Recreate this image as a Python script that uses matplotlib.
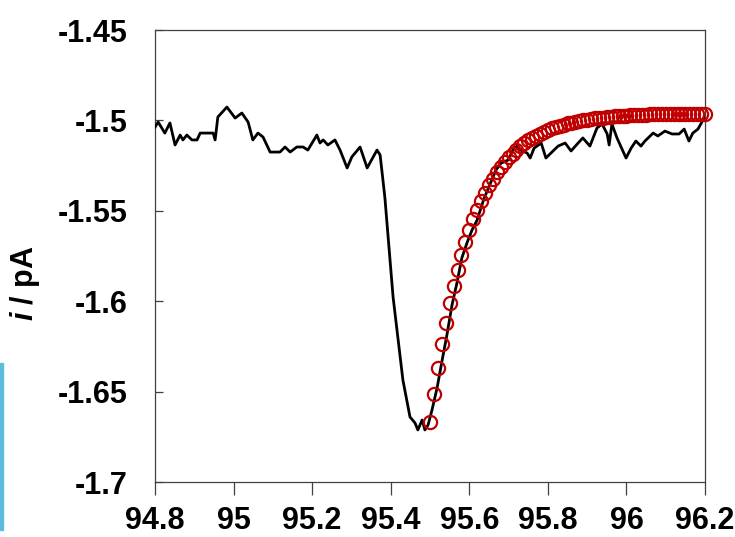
import matplotlib
matplotlib.use("Agg")
import matplotlib.pyplot as plt
from matplotlib.patches import Rectangle

# ----------------------------------------------------------------------------
# Data (time vs. current)
# ----------------------------------------------------------------------------
TRACE_X = [94.800, 94.808, 94.825, 94.838, 94.851, 94.864, 94.871, 94.881,
           94.894, 94.907, 94.915, 94.948, 94.953, 94.960, 94.983, 95.004,
           95.021, 95.037, 95.049, 95.062, 95.075, 95.093, 95.118, 95.131,
           95.144, 95.161, 95.177, 95.189, 95.212, 95.220, 95.228, 95.240,
           95.258, 95.271, 95.289, 95.301, 95.322, 95.340, 95.365, 95.373,
           95.385, 95.406, 95.431, 95.449, 95.462, 95.469, 95.480, 95.487,
           95.495, 95.505, 95.518, 95.531, 95.543, 95.556, 95.569, 95.581,
           95.594, 95.607, 95.620, 95.637, 95.655, 95.668, 95.681, 95.699,
           95.711, 95.721, 95.734, 95.747, 95.755, 95.765, 95.783, 95.795,
           95.808, 95.826, 95.844, 95.859, 95.877, 95.889, 95.907, 95.925,
           95.938, 95.951, 95.956, 95.963, 95.976, 95.999, 96.012, 96.024,
           96.037, 96.047, 96.068, 96.080, 96.098, 96.116, 96.134, 96.147,
           96.159, 96.169, 96.182, 96.195, 96.200]
TRACE_I = [-1.5037, -1.5009, -1.5070, -1.5014, -1.5136, -1.5081, -1.5108, -1.5081,
           -1.5108, -1.5108, -1.5070, -1.5070, -1.5108, -1.4981, -1.4926, -1.4987,
           -1.4959, -1.5009, -1.5108, -1.5070, -1.5092, -1.5175, -1.5175, -1.5147,
           -1.5175, -1.5147, -1.5147, -1.5164, -1.5081, -1.5125, -1.5108, -1.5136,
           -1.5108, -1.5164, -1.5263, -1.5202, -1.5147, -1.5263, -1.5164, -1.5191,
           -1.5424, -1.5977, -1.6436, -1.6640, -1.6674, -1.6712, -1.6657, -1.6712,
           -1.6685, -1.6602, -1.6480, -1.6325, -1.6187, -1.6021, -1.5894, -1.5761,
           -1.5678, -1.5606, -1.5551, -1.5435, -1.5341, -1.5274, -1.5236, -1.5219,
           -1.5164, -1.5142, -1.5169, -1.5180, -1.5208, -1.5153, -1.5125, -1.5208,
           -1.5180, -1.5142, -1.5125, -1.5169, -1.5125, -1.5097, -1.5142, -1.5042,
           -1.5020, -1.5075, -1.5136, -1.5020, -1.5097, -1.5208, -1.5153, -1.5114,
           -1.5142, -1.5114, -1.5070, -1.5086, -1.5059, -1.5075, -1.5075, -1.5048,
           -1.5114, -1.5070, -1.5048, -1.4998, -1.4976]

# fitted decay, one circle every 0.01 from 95.50 to 96.20
FIT_X = [95.50, 95.51, 95.52, 95.53, 95.54, 95.55, 95.56, 95.57, 95.58, 95.59,
         95.60, 95.61, 95.62, 95.63, 95.64, 95.65, 95.66, 95.67, 95.68, 95.69,
         95.70, 95.71, 95.72, 95.73, 95.74, 95.75, 95.76, 95.77, 95.78, 95.79,
         95.80, 95.81, 95.82, 95.83, 95.84, 95.85, 95.86, 95.87, 95.88, 95.89,
         95.90, 95.91, 95.92, 95.93, 95.94, 95.95, 95.96, 95.97, 95.98, 95.99,
         96.00, 96.01, 96.02, 96.03, 96.04, 96.05, 96.06, 96.07, 96.08, 96.09,
         96.10, 96.11, 96.12, 96.13, 96.14, 96.15, 96.16, 96.17, 96.18, 96.19,
         96.20]
FIT_I = [-1.6670, -1.6512, -1.6368, -1.6238, -1.6120, -1.6012, -1.5915, -1.5827,
         -1.5746, -1.5674, -1.5608, -1.5548, -1.5493, -1.5444, -1.5399, -1.5359,
         -1.5322, -1.5288, -1.5258, -1.5230, -1.5205, -1.5183, -1.5162, -1.5143,
         -1.5126, -1.5111, -1.5097, -1.5084, -1.5073, -1.5062, -1.5053, -1.5044,
         -1.5036, -1.5029, -1.5023, -1.5017, -1.5012, -1.5007, -1.5003, -1.4999,
         -1.4995, -1.4992, -1.4989, -1.4986, -1.4984, -1.4982, -1.4980, -1.4978,
         -1.4976, -1.4975, -1.4973, -1.4972, -1.4971, -1.4970, -1.4969, -1.4968,
         -1.4967, -1.4967, -1.4966, -1.4965, -1.4965, -1.4965, -1.4964, -1.4964,
         -1.4963, -1.4963, -1.4963, -1.4963, -1.4962, -1.4962, -1.4962]

X_TICKS = [94.8, 95.0, 95.2, 95.4, 95.6, 95.8, 96.0, 96.2]
X_LABELS = ["94.8", "95", "95.2", "95.4", "95.6", "95.8", "96", "96.2"]
Y_TICKS = [-1.7, -1.65, -1.6, -1.55, -1.5, -1.45]
Y_LABELS = ["-1.7", "-1.65", "-1.6", "-1.55", "-1.5", "-1.45"]

plt.rcParams["font.family"] = ["Liberation Sans", "DejaVu Sans"]
plt.rcParams["font.weight"] = "bold"
plt.rcParams["mathtext.fontset"] = "custom"
plt.rcParams["mathtext.it"] = "Liberation Sans:italic:bold"
plt.rcParams["mathtext.rm"] = "Liberation Sans:bold"

fig = plt.figure(figsize=(7.35, 5.37), dpi=100)
ax = fig.add_axes([0.2109, 0.1024, 0.7483, 0.8417])

ax.plot(TRACE_X, TRACE_I, color="black", lw=2.0, zorder=3)
ax.plot(FIT_X, FIT_I, linestyle="None", marker="o", markersize=9.5,
        markerfacecolor="none", markeredgecolor="#c00000",
        markeredgewidth=1.6, zorder=4, clip_on=False)

ax.set_xlim(94.8, 96.2)
ax.set_ylim(-1.7, -1.45)
ax.set_xticks(X_TICKS)
ax.set_xticklabels(X_LABELS)
ax.set_yticks(Y_TICKS)
ax.set_yticklabels(Y_LABELS)

for sp in ax.spines.values():
    sp.set_color("#404040")
    sp.set_linewidth(0.9)
ax.tick_params(axis="y", direction="in", length=6, width=0.9, color="#404040",
               labelsize=22, pad=20)
ax.tick_params(axis="x", direction="out", length=9.5, width=0.9,
               color="#404040", labelsize=22, pad=8)

fig.text(0.034, 0.473, "$i$ / pA", fontsize=22, fontweight="bold",
         rotation=90, ha="center", va="center")

# stray blue edge visible at the left border of the source image
fig.patches.append(Rectangle((0, 1 - 530 / 537), 2.5 / 735, 167 / 537,
                             transform=fig.transFigure, color="#5bbcdc",
                             zorder=0))

fig.savefig("out.png", dpi=100)
